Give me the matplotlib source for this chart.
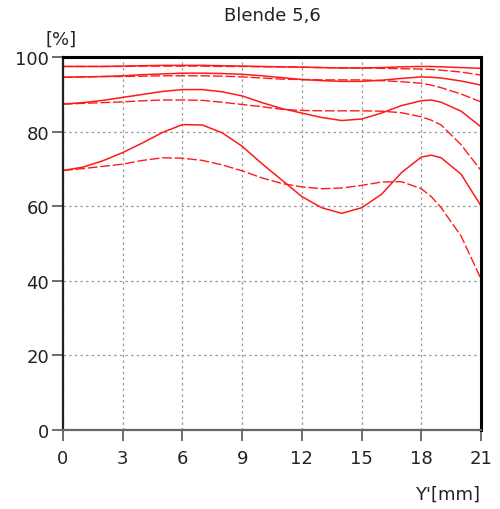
import matplotlib

matplotlib.use("Agg")
import matplotlib.pyplot as plt

# image height Y' in mm
y_mm = [0, 1, 2, 3, 4, 5, 6, 7, 8, 9, 10, 11, 12, 13, 14, 15, 16, 17, 18, 18.5, 19, 20, 21]

# contrast in %, solid = sagittal, dashed = tangential
top_sag = [97.5, 97.5, 97.5, 97.6, 97.7, 97.8, 97.8, 97.8, 97.7, 97.6, 97.5,
           97.4, 97.3, 97.2, 97.1, 97.1, 97.2, 97.4, 97.5, 97.5, 97.4, 97.2, 97.0]
top_tan = [97.5, 97.5, 97.5, 97.5, 97.6, 97.6, 97.6, 97.6, 97.5, 97.5, 97.4,
           97.4, 97.3, 97.2, 97.1, 97.1, 97.0, 96.9, 96.8, 96.7, 96.5, 96.0, 95.2]
mid_sag = [94.6, 94.7, 94.8, 95.0, 95.3, 95.5, 95.7, 95.7, 95.6, 95.4, 95.0,
           94.5, 94.0, 93.7, 93.5, 93.5, 93.8, 94.3, 94.7, 94.6, 94.4, 93.6, 92.5]
mid_tan = [94.6, 94.7, 94.8, 94.8, 94.9, 95.0, 95.0, 95.0, 94.9, 94.7, 94.4,
           94.1, 94.0, 93.9, 93.9, 93.9, 93.7, 93.4, 93.0, 92.5, 91.8, 90.1, 88.0]
low_sag = [87.4, 87.8, 88.4, 89.2, 90.0, 90.8, 91.3, 91.3, 90.7, 89.6, 87.8,
           86.2, 85.0, 83.8, 83.0, 83.4, 85.0, 87.0, 88.3, 88.5, 87.9, 85.5, 81.3]
low_tan = [87.4, 87.6, 87.8, 88.0, 88.3, 88.5, 88.5, 88.4, 87.9, 87.3, 86.7,
           86.0, 85.7, 85.6, 85.6, 85.6, 85.5, 85.1, 84.0, 83.1, 81.8, 76.5, 69.6]
fine_sag = [69.6, 70.5, 72.2, 74.4, 77.0, 79.8, 81.9, 81.8, 79.7, 76.1, 71.4,
            67.0, 62.6, 59.6, 58.1, 59.6, 63.2, 69.0, 73.2, 73.7, 73.0, 68.6, 60.1]
fine_tan = [69.6, 70.1, 70.7, 71.3, 72.3, 73.0, 72.9, 72.3, 71.1, 69.5, 67.6,
            66.1, 65.2, 64.7, 64.9, 65.6, 66.5, 66.6, 64.7, 62.6, 59.6, 52.0, 40.5]

x_ticks = [0, 3, 6, 9, 12, 15, 18, 21]
y_ticks = [0, 20, 40, 60, 80, 100]

red = "#ff1a1a"
dash = (0, (7, 2))

fig = plt.figure(figsize=(5.0, 5.1), dpi=100)
ax = fig.add_axes([0.126, 0.155, 0.836, 0.731])

for sag, tan in [(top_sag, top_tan), (mid_sag, mid_tan),
                 (low_sag, low_tan), (fine_sag, fine_tan)]:
    ax.plot(y_mm, sag, color=red, linewidth=1.1)
    ax.plot(y_mm, tan, color=red, linewidth=1.0, linestyle=dash)

ax.set_xlim(0, 21)
ax.set_ylim(0, 100)
ax.set_xticks(x_ticks)
ax.set_yticks(y_ticks)
ax.grid(True, color="#999999", linestyle=(0, (2, 2.5)), linewidth=0.9)

ax.tick_params(axis="both", direction="out", length=8, width=1.2,
               colors="#555555", labelcolor="#222222", labelsize=13)
ax.tick_params(axis="x", pad=6)
ax.tick_params(axis="y", pad=2)

ax.spines["top"].set_linewidth(2.2)
ax.spines["right"].set_linewidth(2.2)
ax.spines["top"].set_color("black")
ax.spines["right"].set_color("black")
ax.spines["left"].set_linewidth(1.6)
ax.spines["left"].set_color("#222222")
ax.spines["bottom"].set_linewidth(1.6)
ax.spines["bottom"].set_color("#666666")

fig.text(0.544, 0.968, "Blende 5,6", ha="center", va="center",
         fontsize=13, color="#222222")
fig.text(0.122, 0.922, "[%]", ha="center", va="center",
         fontsize=13, color="#222222")
fig.text(0.895, 0.03, "Y'[mm]", ha="center", va="center",
         fontsize=13, color="#222222")

fig.savefig("out.png", dpi=100)
plt.close(fig)
